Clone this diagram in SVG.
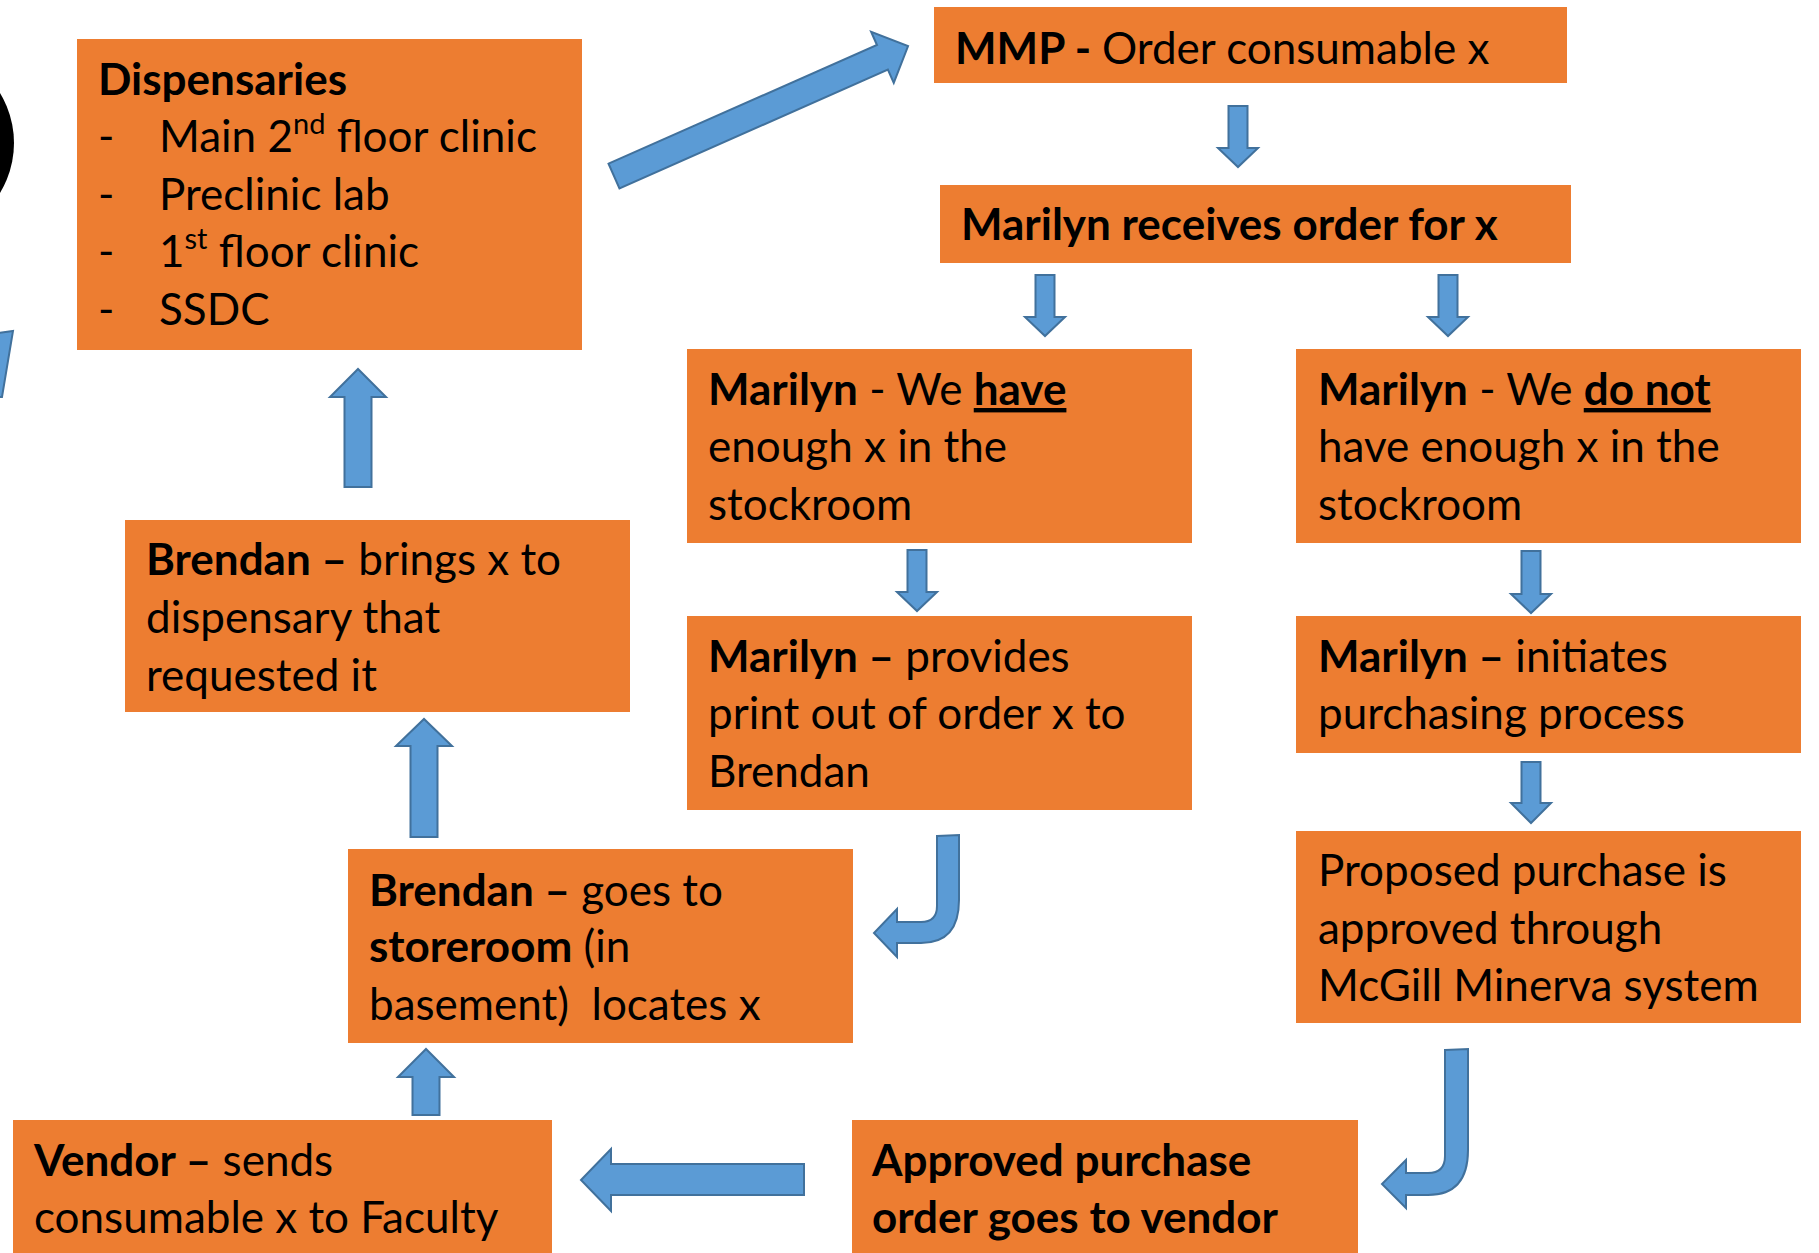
<svg xmlns="http://www.w3.org/2000/svg" width="1819" height="1253" viewBox="0 0 1819 1253">
<style>
.box{fill:#ED7D31}
.arr{fill:#5B9BD5;stroke:#41719C;stroke-width:2;stroke-linejoin:miter}
text{font-family:Lato,"Open Sans","Liberation Sans",sans-serif;font-size:44px;fill:#000}
.b{font-weight:bold}
.u{text-decoration:underline}
</style>
<rect width="1819" height="1253" fill="#fff"/>
<circle cx="-82" cy="143" r="96" fill="#000"/>
<polygon class="arr" points="-2,333 13,331 2,397 -2,397"/>

<g id="connectors">
  <polygon class="arr" transform="translate(614,176) rotate(-23.85)" points="0,-13.5 293.5,-13.5 293.5,-28 321.5,0 293.5,28 293.5,13.5 0,13.5"/>
  <polygon class="arr" points="1228.5,106 1247.5,106 1247.5,148 1258,148 1238,167 1218,148 1228.5,148"/>
  <polygon class="arr" points="1035.5,275 1054.5,275 1054.5,317 1065,317 1045,336 1025,317 1035.5,317"/>
  <polygon class="arr" points="1438.5,275 1457.5,275 1457.5,317 1468,317 1448,336 1428,317 1438.5,317"/>
  <polygon class="arr" points="907.5,550 926.5,550 926.5,592 937,592 917,611 897,592 907.5,592"/>
  <polygon class="arr" points="1521.5,551 1540.5,551 1540.5,594 1551,594 1531,613 1511,594 1521.5,594"/>
  <polygon class="arr" points="1521.5,762 1540.5,762 1540.5,803 1551,803 1531,823 1511,803 1521.5,803"/>
  <path class="arr" d="M937,836 L959,835 L959,900 Q959,943 921,943 L897,943 L897,957 L874,933 L897,909 L897,922 L921,922 Q937,922 937,906 Z"/>
  <path class="arr" d="M1445,1050 L1468,1049 L1468,1150 Q1468,1195 1428,1195 L1406,1195 L1406,1208 L1382,1184 L1406,1160 L1406,1173 L1428,1173 Q1445,1173 1445,1156 Z"/>
  <polygon class="arr" points="344.5,487 371.5,487 371.5,397 386,397 358,369 330,397 344.5,397"/>
  <polygon class="arr" points="410.5,837 437.5,837 437.5,746 452,746 424,719 396,746 410.5,746"/>
  <polygon class="arr" points="412.5,1115 439.5,1115 439.5,1077 454,1077 426,1049 398,1077 412.5,1077"/>
  <polygon class="arr" points="804,1164 611,1164 611,1149 581,1180 611,1211 611,1195 804,1195"/>
</g>

<g id="dispensaries">
  <rect class="box" x="77" y="39" width="505" height="311"/>
  <text x="98" y="95" class="b">Dispensaries</text>
  <text x="98" y="152">-</text><text x="159" y="152">Main 2<tspan font-size="29" dy="-18">nd</tspan><tspan dy="18"> floor clinic</tspan></text>
  <text x="98" y="210">-</text><text x="159" y="210">Preclinic lab</text>
  <text x="98" y="267">-</text><text x="159" y="267">1<tspan font-size="29" dy="-18">st</tspan><tspan dy="18"> floor clinic</tspan></text>
  <text x="98" y="325">-</text><text x="159" y="325">SSDC</text>
</g>

<g id="mmp">
  <rect class="box" x="934" y="7" width="633" height="76"/>
  <text x="955" y="64"><tspan class="b">MMP - </tspan>Order consumable x</text>
</g>

<g id="receives">
  <rect class="box" x="940" y="185" width="631" height="78"/>
  <text x="961" y="240" class="b">Marilyn receives order for x</text>
</g>

<g id="have">
  <rect class="box" x="687" y="349" width="505" height="194"/>
  <text x="708" y="405"><tspan class="b">Marilyn</tspan> - We <tspan class="b u">have</tspan></text>
  <text x="708" y="462">enough x in the</text>
  <text x="708" y="520">stockroom</text>
</g>

<g id="havenot">
  <rect class="box" x="1296" y="349" width="505" height="194"/>
  <text x="1318" y="405"><tspan class="b">Marilyn</tspan> - We <tspan class="b u">do not</tspan></text>
  <text x="1318" y="462">have enough x in the</text>
  <text x="1318" y="520">stockroom</text>
</g>

<g id="provides">
  <rect class="box" x="687" y="616" width="505" height="194"/>
  <text x="708" y="672"><tspan class="b">Marilyn –</tspan> provides</text>
  <text x="708" y="729">print out of order x to</text>
  <text x="708" y="787">Brendan</text>
</g>

<g id="initiates">
  <rect class="box" x="1296" y="616" width="505" height="137"/>
  <text x="1318" y="672"><tspan class="b">Marilyn –</tspan> initiates</text>
  <text x="1318" y="729">purchasing process</text>
</g>

<g id="proposed">
  <rect class="box" x="1296" y="831" width="505" height="192"/>
  <text x="1318" y="886">Proposed purchase is</text>
  <text x="1318" y="944">approved through</text>
  <text x="1318" y="1001">McGill Minerva system</text>
</g>

<g id="approved">
  <rect class="box" x="852" y="1120" width="506" height="140"/>
  <text x="872" y="1176" class="b">Approved purchase</text>
  <text x="872" y="1233" class="b">order goes to vendor</text>
</g>

<g id="vendor">
  <rect class="box" x="13" y="1120" width="539" height="140"/>
  <text x="34" y="1176"><tspan class="b">Vendor –</tspan> sends</text>
  <text x="34" y="1233">consumable x to Faculty</text>
</g>

<g id="storeroom">
  <rect class="box" x="348" y="849" width="505" height="194"/>
  <text x="369" y="906"><tspan class="b">Brendan –</tspan> goes to</text>
  <text x="369" y="962"><tspan class="b">storeroom</tspan> (in</text>
  <text x="369" y="1020" xml:space="preserve">basement)  locates x</text>
</g>

<g id="brings">
  <rect class="box" x="125" y="520" width="505" height="192"/>
  <text x="146" y="575"><tspan class="b">Brendan –</tspan> brings x to</text>
  <text x="146" y="633">dispensary that</text>
  <text x="146" y="691">requested it</text>
</g>
</svg>
